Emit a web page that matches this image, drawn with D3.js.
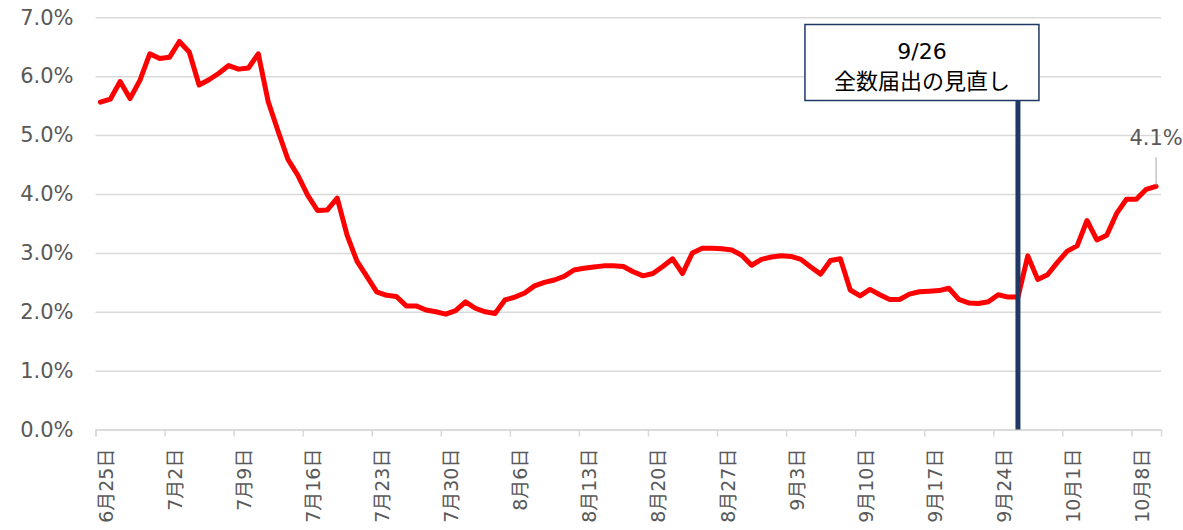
<!DOCTYPE html>
<html>
<head>
<meta charset="utf-8">
<script src="https://cdn.jsdelivr.net/npm/d3@7"></script>
<style>
  body { margin: 0; background: #fff; }
  svg { display: block; }
</style>
</head>
<body>
<svg id="chart" width="1183" height="530"></svg>
<script>
var chart = d3.select("#chart");
var width = +chart.attr("width");
var height = +chart.attr("height");

// first day of the series (one value per day)
var startDate = "2022-06-25";

// daily values, %
var values = [
  5.56, 5.61, 5.91, 5.62, 5.93, 6.38, 6.30, 6.32, 6.59, 6.41,
  5.85, 5.94, 6.05, 6.18, 6.12, 6.14, 6.38, 5.57, 5.07, 4.59,
  4.32, 3.98, 3.72, 3.73, 3.93, 3.30, 2.86, 2.60, 2.34, 2.28,
  2.26, 2.10, 2.10, 2.03, 2.00, 1.96, 2.02, 2.17, 2.06, 2.00,
  1.97, 2.20, 2.25, 2.32, 2.44, 2.50, 2.54, 2.60, 2.71, 2.74,
  2.76, 2.78, 2.78, 2.77, 2.68, 2.61, 2.65, 2.77, 2.90, 2.65,
  3.00, 3.08, 3.08, 3.07, 3.05, 2.96, 2.79, 2.89, 2.93, 2.95,
  2.94, 2.89, 2.76, 2.64, 2.87, 2.90, 2.37, 2.27, 2.38, 2.29,
  2.21, 2.21, 2.30, 2.34, 2.35, 2.36, 2.40, 2.21, 2.15, 2.14,
  2.17, 2.29, 2.25, 2.25, 2.95, 2.55, 2.63, 2.84, 3.03, 3.12,
  3.55, 3.22, 3.30, 3.67, 3.91, 3.91, 4.08, 4.13
];

// x tick dates (weekly)
var tickDates = [
  "2022-06-25", "2022-07-02", "2022-07-09", "2022-07-16", "2022-07-23",
  "2022-07-30", "2022-08-06", "2022-08-13", "2022-08-20", "2022-08-27",
  "2022-09-03", "2022-09-10", "2022-09-17", "2022-09-24", "2022-10-01",
  "2022-10-08"
];

// y ticks, %
var yTicks = [0, 1, 2, 3, 4, 5, 6, 7];

// annotation
var eventDate = "2022-09-26";
var eventLines = ["9/26", "全数届出の見直し"];

var parse = d3.timeParse("%Y-%m-%d");
var start = parse(startDate);
var days = d3.timeDay.range(start, d3.timeDay.offset(start, values.length));
var data = days.map(function (d, i) { return { date: d, value: values[i] }; });

var margin = { left: 95.5, right: 22, top: 17.3, bottom: 100.4 };

var x = d3.scaleTime()
  .domain([start, d3.timeDay.offset(start, values.length)])
  .range([margin.left, width - margin.right]);

var y = d3.scaleLinear()
  .domain([0, 7])
  .range([height - margin.bottom, margin.top]);

// points sit in the middle of each day
function midX(d) { return x(d3.timeHour.offset(d, 12)); }

var grey = "#595959";
var font = "'DejaVu Sans', 'Noto Sans CJK JP', sans-serif";

// gridlines + y labels
var yAxis = d3.axisLeft(y)
  .tickValues(yTicks)
  .tickSize(-(width - margin.left - margin.right))
  .tickPadding(22)
  .tickFormat(function (d) { return d.toFixed(1) + "%"; });

var gy = chart.append("g")
  .attr("transform", "translate(" + margin.left + ",0)")
  .call(yAxis);
gy.select(".domain").remove();
gy.selectAll(".tick line").attr("stroke", "#D9D9D9").attr("stroke-width", 1.5);
gy.selectAll(".tick text")
  .attr("fill", grey)
  .style("font-family", font)
  .style("font-size", "21px");

// x axis
var xAxis = d3.axisBottom(x)
  .tickValues(tickDates.map(parse))
  .tickSize(7)
  .tickFormat(d3.timeFormat("%-m月%-d日"));

var gx = chart.append("g")
  .attr("transform", "translate(0," + y(0) + ")")
  .call(xAxis);
gx.select(".domain").attr("stroke", "#D9D9D9").attr("stroke-width", 1.5);
gx.selectAll(".tick line").attr("stroke", "#D9D9D9").attr("stroke-width", 1.5);
gx.selectAll(".tick text")
  .attr("fill", grey)
  .style("font-family", font)
  .style("font-size", "19px")
  .attr("text-anchor", "end")
  .attr("dominant-baseline", "central")
  .attr("dy", null)
  .attr("transform", "translate(10,19) rotate(-90)")
  .attr("x", 0)
  .attr("y", 0);

// the line
var line = d3.line()
  .x(function (d) { return midX(d.date); })
  .y(function (d) { return y(d.value); });

chart.append("path")
  .datum(data)
  .attr("fill", "none")
  .attr("stroke", "#FF0000")
  .attr("stroke-width", 5)
  .attr("stroke-linejoin", "round")
  .attr("stroke-linecap", "round")
  .attr("d", line);

// event marker: vertical bar + box
var ex = midX(parse(eventDate));
var boxW = 234, boxH = 76, boxTop = 24.5;
var boxLeft = ex - 213;

chart.append("line")
  .attr("x1", ex).attr("x2", ex)
  .attr("y1", boxTop + boxH)
  .attr("y2", y(0))
  .attr("stroke", "#203864")
  .attr("stroke-width", 5);

chart.append("rect")
  .attr("x", boxLeft)
  .attr("y", boxTop)
  .attr("width", boxW)
  .attr("height", boxH)
  .attr("fill", "#fff")
  .attr("stroke", "#203864")
  .attr("stroke-width", 1.5);

chart.append("g").selectAll("text")
  .data(eventLines)
  .enter()
  .append("text")
  .attr("x", boxLeft + boxW / 2)
  .attr("y", function (d, i) { return boxTop + 34 + i * 30; })
  .attr("text-anchor", "middle")
  .attr("fill", "#000")
  .style("font-family", font)
  .style("font-size", "22px")
  .text(function (d) { return d; });

// last value label with leader
var last = data[data.length - 1];
var lx = midX(last.date), ly = y(last.value);

chart.append("line")
  .attr("x1", lx).attr("x2", lx)
  .attr("y1", ly - 1)
  .attr("y2", ly - 29)
  .attr("stroke", "#A6A6A6")
  .attr("stroke-width", 1);

chart.append("text")
  .attr("x", lx)
  .attr("y", ly - 41)
  .attr("text-anchor", "middle")
  .attr("fill", grey)
  .style("font-family", font)
  .style("font-size", "21px")
  .text(last.value.toFixed(1) + "%");
</script>
</body>
</html>
